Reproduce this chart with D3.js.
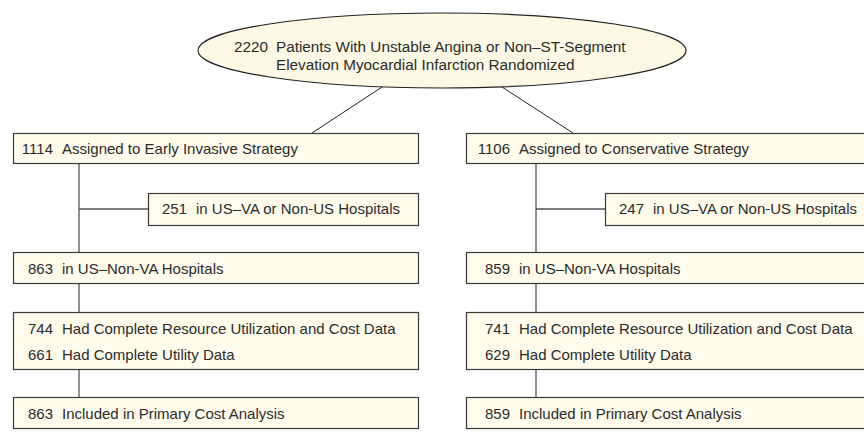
<!DOCTYPE html>
<html>
<head>
<meta charset="utf-8">
<script src="https://cdn.jsdelivr.net/npm/d3@7"></script>
<style>
  body { margin: 0; background: #fff; }
  text { font-family: "Liberation Sans", Arial, Helvetica, sans-serif; fill: #2b2b2b; }
</style>
</head>
<body>
<div id="flow"></div>
<script>
// data
let randomized = 2220;
let randomizedLines = ["Patients With Unstable Angina or Non\u2013ST-Segment", "Elevation Myocardial Infarction Randomized"];
let arms = ["Early Invasive", "Conservative"];
let assigned = [1114, 1106];
let assignedLabels = ["Assigned to Early Invasive Strategy", "Assigned to Conservative Strategy"];
let excluded = [251, 247];
let excludedLabel = "in US\u2013VA or Non-US Hospitals";
let usNonVA = [863, 859];
let usNonVALabel = "in US\u2013Non-VA Hospitals";
let completeCost = [744, 741];
let completeCostLabel = "Had Complete Resource Utilization and Cost Data";
let completeUtility = [661, 629];
let completeUtilityLabel = "Had Complete Utility Data";
let primary = [863, 859];
let primaryLabel = "Included in Primary Cost Analysis";

let width = 864;
let height = 442;

let svg = d3.select('#flow').append('svg')
    .attr('width', width).attr('height', height);

// layout
let boxW = 405, sideW = 270;
let fs = '15px';
let xCol = d3.scalePoint().domain(arms).range([13, 466]);
let xInner = d3.scalePoint().domain(arms).range([13, 470]);   // right column content sits a little further in
let rows = d3.scaleOrdinal()
    .domain(['assigned', 'excluded', 'usNonVA', 'complete', 'primary'])
    .range([[133, 30], [193, 32], [252, 31], [312, 57], [397, 31]]);   // [top, height]
let rowTop = (k) => rows(k)[0];
let rowBot = (k) => rows(k)[0] + rows(k)[1];
let rowMid = (k) => rows(k)[0] + rows(k)[1] / 2;

let fillBox = '#fffcec', fillOval = '#fdf9e4', stroke = '#3a3a3a';

// oval
let oval = { cx: 442, cy: 50.5, rx: 244, ry: 37.5 };

// lines from oval to arms
let armTop = d3.scalePoint().domain(arms).range([312, 573]);
arms.forEach((a, i) => {
    let xb = armTop(a);
    let xe = oval.cx + (i === 0 ? -59 : 59);
    let ye = oval.cy + oval.ry * Math.sqrt(1 - Math.pow((xe - oval.cx) / oval.rx, 2));
    svg.append('line')
        .attr('x1', xe).attr('y1', ye - 0.5)
        .attr('x2', xb).attr('y2', rowTop('assigned'))
        .attr('stroke', '#222').attr('stroke-width', 1);
});

svg.append('ellipse')
    .attr('cx', oval.cx).attr('cy', oval.cy)
    .attr('rx', oval.rx).attr('ry', oval.ry)
    .attr('fill', fillOval).attr('stroke', '#222').attr('stroke-width', 1.2);

svg.append('text')
    .attr('x', 268).attr('y', 52)
    .attr('text-anchor', 'end')
    .style('font-size', '15.3px')
    .text(randomized);
randomizedLines.forEach((t, i) => {
    svg.append('text')
        .attr('x', 276).attr('y', 52 + i * 18)
        .style('font-size', '15.3px')
        .text(t);
});

// connectors
arms.forEach((a) => {
    let tx = xInner(a) + 66;
    let segs = [
        ['assigned', 'usNonVA'],
        ['usNonVA', 'complete'],
        ['complete', 'primary']
    ];
    segs.forEach(([f, t]) => {
        svg.append('line')
            .attr('x1', tx).attr('y1', rowBot(f))
            .attr('x2', tx).attr('y2', rowTop(t))
            .attr('stroke', '#555').attr('stroke-width', 1.3);
    });
    svg.append('line')
        .attr('x1', tx).attr('y1', rowMid('excluded'))
        .attr('x2', xInner(a) + 135).attr('y2', rowMid('excluded'))
        .attr('stroke', '#555').attr('stroke-width', 1.3);
});

function box(x, row, w) {
    svg.append('rect')
        .attr('x', x + 0.5).attr('y', rowTop(row) + 0.5)
        .attr('width', w).attr('height', rows(row)[1])
        .attr('fill', fillBox).attr('stroke', stroke).attr('stroke-width', 1.2);
}

function entry(x, y, n, label, gap) {
    svg.append('text')
        .attr('x', x).attr('y', y)
        .attr('text-anchor', 'end')
        .style('font-size', fs)
        .text(n);
    svg.append('text')
        .attr('x', x + gap).attr('y', y)
        .style('font-size', fs)
        .text(label);
}

arms.forEach((a, i) => {
    let bx = xCol(a);
    let ix = xInner(a);

    box(bx, 'assigned', boxW);
    entry(ix + 40, rowMid('assigned') + 6, assigned[i], assignedLabels[i], 9);

    box(ix + 135, 'excluded', sideW);
    entry(ix + 174, rowMid('excluded') + 5, excluded[i], excludedLabel, 9);

    box(bx, 'usNonVA', boxW);
    entry(ix + 40, rowMid('usNonVA') + 6, usNonVA[i], usNonVALabel, 9);

    box(bx, 'complete', boxW);
    entry(ix + 40, rowTop('complete') + 22, completeCost[i], completeCostLabel, 9);
    entry(ix + 40, rowTop('complete') + 48, completeUtility[i], completeUtilityLabel, 9);

    box(bx, 'primary', boxW);
    entry(ix + 40, rowMid('primary') + 6, primary[i], primaryLabel, 9);
});
</script>
</body>
</html>
